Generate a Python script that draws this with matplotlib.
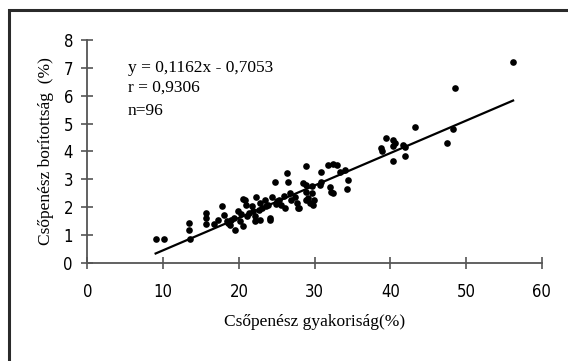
import matplotlib
matplotlib.use("Agg")
import matplotlib.pyplot as plt
from matplotlib.patches import Rectangle

# scatter data (gyakoriság %, borítottság %)
freq = [
    9.0, 10.1, 13.4, 13.4, 13.5, 15.6, 15.7, 15.6, 16.7, 17.7,
    18.0, 18.4, 18.8, 19.4, 19.5, 19.9, 20.1, 20.6, 20.8, 20.9,
    21.0, 21.7, 21.9, 22.1, 22.1, 22.3, 22.8, 23.1, 23.4, 24.1,
    23.9, 24.4, 24.7, 25.0, 25.5, 26.1, 26.4, 26.5, 26.7, 26.9,
    27.4, 27.7, 27.9, 28.5, 28.8, 28.9, 29.1, 29.4, 29.6, 29.7,
    29.9, 30.8, 30.9, 31.7, 32.4, 32.9, 32.0, 32.2, 32.4, 33.3,
    34.0, 34.4, 34.3, 28.8, 28.9, 29.8, 30.7, 20.5, 22.8, 24.1,
    27.8, 19.0, 21.3, 23.6, 25.3, 26.0, 24.9, 22.6, 20.3, 18.6,
    38.8, 38.9, 39.4, 40.3, 40.6, 40.3, 40.3, 41.7, 41.9, 41.9,
    43.2, 47.5, 48.3, 48.5, 56.2, 17.2,
]
cover = [
    0.86, 0.86, 1.45, 1.19, 0.86, 1.79, 1.61, 1.40, 1.40, 2.03,
    1.73, 1.49, 1.37, 1.61, 1.19, 1.85, 1.49, 1.33, 2.27, 2.09,
    1.67, 2.03, 1.85, 1.67, 1.49, 2.38, 2.15, 1.97, 2.27, 1.55,
    2.09, 2.38, 2.92, 2.21, 2.09, 1.97, 3.23, 2.92, 2.51, 2.27,
    2.38, 2.15, 1.97, 2.87, 3.49, 2.56, 2.33, 2.15, 2.77, 2.51,
    2.27, 3.25, 2.92, 3.50, 3.56, 3.53, 2.74, 2.56, 2.50, 3.25,
    3.35, 2.99, 2.65, 2.81, 2.27, 2.09, 2.81, 2.29, 1.55, 1.61,
    1.97, 1.55, 1.80, 2.05, 2.25, 2.40, 2.10, 1.90, 1.75, 1.45,
    4.13, 4.00, 4.48, 4.42, 4.31, 4.21, 3.64, 4.24, 4.16, 3.82,
    4.87, 4.31, 4.81, 6.28, 7.20, 1.55,
]

# regression shown in the chart
slope = 0.1162
intercept = -0.7053
fit_x = [9.0, 56.2]

x_ticks = [0, 10, 20, 30, 40, 50, 60]
y_ticks = [0, 1, 2, 3, 4, 5, 6, 7, 8]

serif = ["Liberation Serif", "DejaVu Serif"]
narrow = ["DejaVu Sans"]
axis_grey = "#555555"

fig = plt.figure(figsize=(5.68, 3.61), dpi=100)
ax = fig.add_axes([0.154, 0.2715, 0.800, 0.618])

ax.plot(freq, cover, "o", color="black", ms=4.8, mew=0, zorder=3)
fit_y = [slope * v + intercept for v in fit_x]
ax.plot(fit_x, fit_y, color="black", lw=1.6, zorder=2)

ax.set_xlim(0, 60)
ax.set_ylim(0, 8)
ax.set_xticks(x_ticks)
ax.set_yticks(y_ticks)
ax.set_xticklabels([str(v) for v in x_ticks], family=narrow,
                   fontstretch="condensed", fontsize=12)
ax.set_yticklabels([str(v) for v in y_ticks], family=narrow,
                   fontstretch="condensed", fontsize=12)
ax.tick_params(axis="x", direction="inout", length=9, width=1.2,
               color=axis_grey, pad=10)
ax.tick_params(axis="y", direction="inout", length=9, width=1.2,
               color=axis_grey, pad=6)

for side in ("top", "right"):
    ax.spines[side].set_visible(False)
for side in ("left", "bottom"):
    ax.spines[side].set_color(axis_grey)
    ax.spines[side].set_linewidth(1.3)
ax.margins(0)

ax.set_xlabel("Csőpenész gyakoriság(%)", family=serif, fontsize=12.5,
              labelpad=9)
ax.set_ylabel("Csőpenész borítottság  (%)", family=serif, fontsize=12.5,
              labelpad=7)

ax.text(5.3, 7.0, "y = 0,1162x - 0,7053", family=serif, fontsize=12.5,
        va="center")
ax.text(5.3, 6.28, "r = 0,9306", family=serif, fontsize=12.5, va="center")
ax.text(5.3, 5.45, "n=96", family=serif, fontsize=12.5, va="center")

# outer frame, cut off at the right and bottom like the scan
fig.patches.append(Rectangle((9 / 568, -0.1), 1.2, 1.1 - 10 / 361,
                             transform=fig.transFigure, fill=False,
                             edgecolor="#2a2a2a", lw=2.2))

fig.savefig("out.png", dpi=100)
